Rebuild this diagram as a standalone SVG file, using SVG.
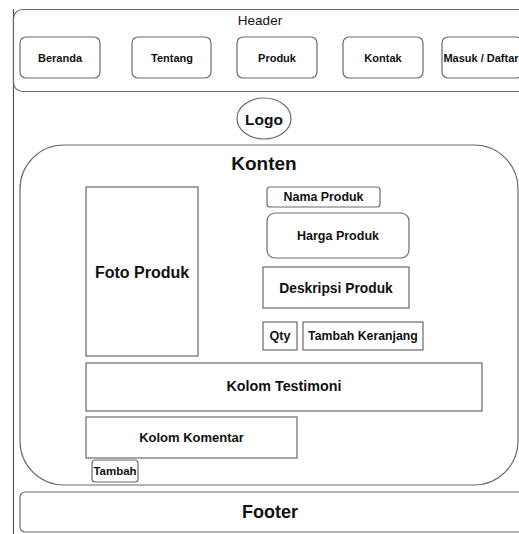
<svg xmlns="http://www.w3.org/2000/svg" width="519" height="534" viewBox="0 0 519 534">
<style>
.box{fill:#fff;stroke:#6a6a6a;stroke-width:1.2}
.t{font-family:"Liberation Sans",Arial,sans-serif;font-weight:bold;fill:#111;text-anchor:middle}
.r{font-family:"Liberation Sans",Arial,sans-serif;fill:#111;text-anchor:middle}
</style>
<rect width="519" height="534" fill="#fff"/>
<g id="frame"><line x1="13.5" y1="9" x2="13.5" y2="534" stroke="#555" stroke-width="1.2"/></g>
<g id="header">
<rect class="box" x="13.5" y="9.5" width="520" height="82" rx="9"/>
<text class="r" x="260" y="25" font-size="13.5">Header</text>
</g>
<g id="beranda"><rect class="box" x="20" y="37" width="80" height="41" rx="6"/><text class="t" x="60" y="61.5" font-size="11">Beranda</text></g>
<g id="tentang"><rect class="box" x="132" y="37" width="79" height="41" rx="6"/><text class="t" x="172" y="61.5" font-size="11">Tentang</text></g>
<g id="produk"><rect class="box" x="237" y="37" width="80" height="41" rx="6"/><text class="t" x="277" y="61.5" font-size="11">Produk</text></g>
<g id="kontak"><rect class="box" x="343" y="37" width="80" height="41" rx="6"/><text class="t" x="383" y="61.5" font-size="11">Kontak</text></g>
<g id="masuk"><rect class="box" x="442" y="37" width="80" height="41" rx="6"/><text class="t" x="481" y="61.5" font-size="11">Masuk / Daftar</text></g>
<g id="logo"><ellipse class="box" cx="264" cy="118.5" rx="27" ry="20.5"/><text class="t" x="264" y="124.5" font-size="15.5">Logo</text></g>
<g id="konten"><rect class="box" x="20" y="145" width="498" height="340" rx="44"/><text class="t" x="264" y="170" font-size="19">Konten</text></g>
<g id="foto"><rect class="box" x="86" y="187" width="112" height="169"/><text class="t" x="142" y="278" font-size="16">Foto Produk</text></g>
<g id="nama"><rect class="box" x="267" y="187" width="113" height="20" rx="3"/><text class="t" x="323.5" y="201" font-size="12.4">Nama Produk</text></g>
<g id="harga"><rect class="box" x="267" y="213" width="142" height="45" rx="8"/><text class="t" x="338" y="240" font-size="12.5">Harga Produk</text></g>
<g id="deskripsi"><rect class="box" x="263" y="267" width="146" height="41"/><text class="t" x="336" y="293" font-size="13.8">Deskripsi Produk</text></g>
<g id="qty"><rect class="box" x="263" y="322" width="34" height="28"/><text class="t" x="280" y="340" font-size="12.6">Qty</text></g>
<g id="keranjang"><rect class="box" x="303" y="322" width="120" height="28"/><text class="t" x="363" y="340" font-size="12.3">Tambah Keranjang</text></g>
<g id="testimoni"><rect class="box" x="86" y="363" width="396" height="48"/><text class="t" x="284" y="391" font-size="14.3">Kolom Testimoni</text></g>
<g id="komentar"><rect class="box" x="86" y="417" width="211" height="41"/><text class="t" x="191.5" y="442" font-size="13">Kolom Komentar</text></g>
<g id="tambah"><rect class="box" x="92" y="460" width="46" height="22" rx="3"/><text class="t" x="115" y="474.5" font-size="11.5">Tambah</text></g>
<g id="footer"><rect class="box" x="20" y="492" width="510" height="40" rx="5"/><text class="t" x="270" y="518" font-size="18">Footer</text></g>
<g id="connectors"></g>
</svg>
